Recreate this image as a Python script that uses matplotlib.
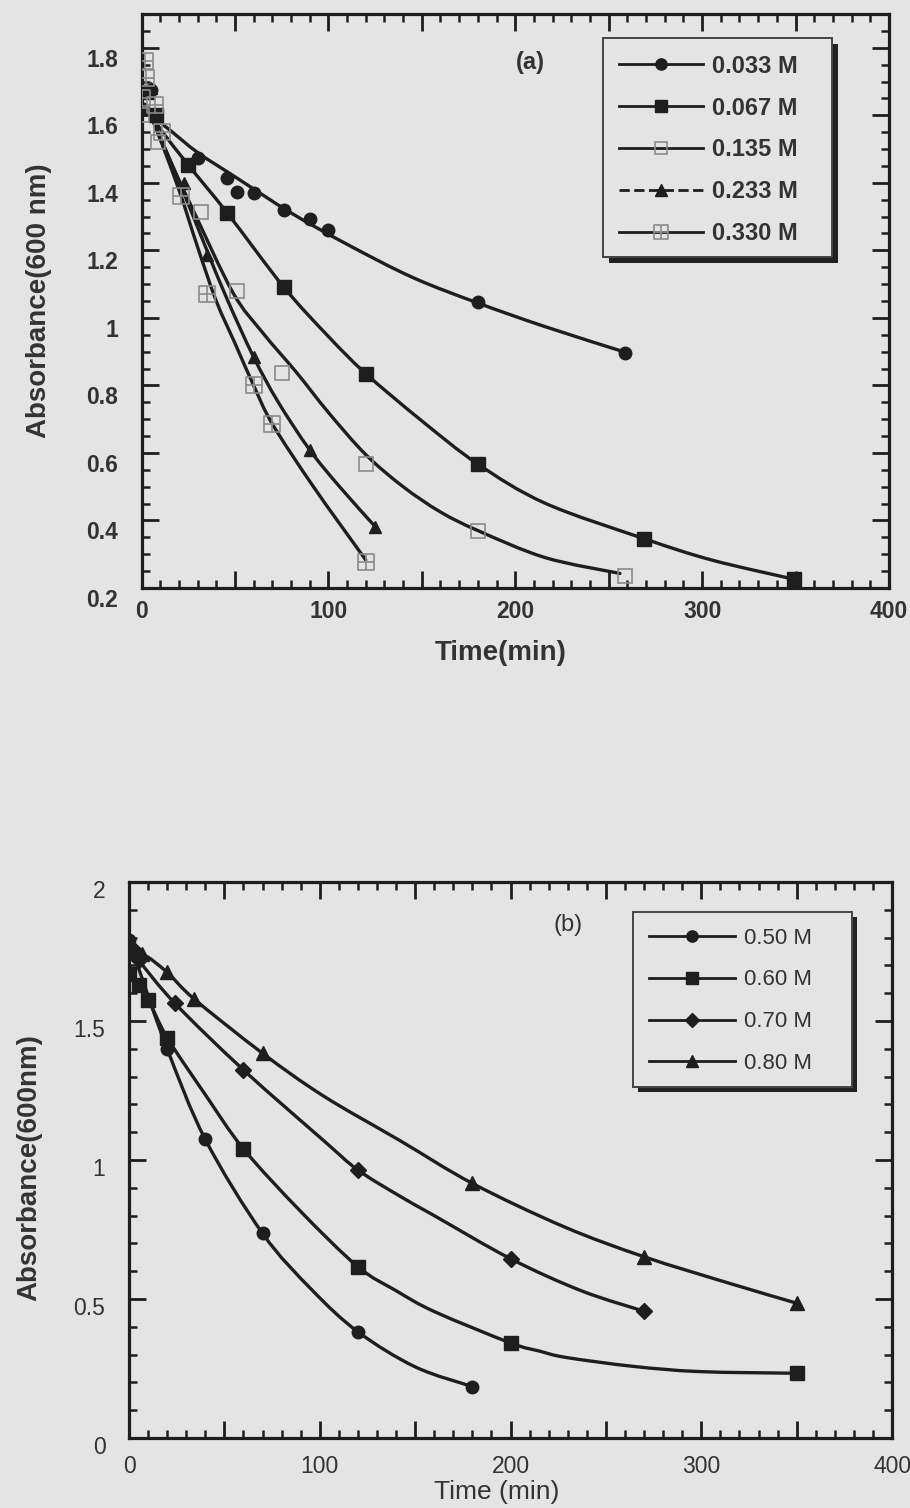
import matplotlib

matplotlib.use("Agg")
import matplotlib.pyplot as plt  # noqa: E402
import numpy as np  # noqa: E402
from matplotlib.lines import Line2D  # noqa: E402
from matplotlib.patches import PathPatch, Rectangle  # noqa: E402
from matplotlib.path import Path  # noqa: E402
from matplotlib.ticker import FuncFormatter, MultipleLocator  # noqa: E402
from matplotlib.transforms import ScaledTranslation  # noqa: E402

plt.rcParams["font.family"] = ["Liberation Sans", "DejaVu Sans"]

BG = "#e4e4e4"
INK = "#1e1e1e"
TXT = "#333333"
GREY = "#8a8a8a"

# ---- panel (a): ionic strength series, measured points ----
t_033 = [1, 5, 30, 46, 51, 60, 76, 90, 100, 180, 259]
a_033 = [1.62, 1.675, 1.474, 1.415, 1.373, 1.37, 1.32, 1.293, 1.261, 1.048, 0.895]
t_067 = [3, 8, 25, 46, 76, 120, 180, 269, 349]
a_067 = [1.67, 1.60, 1.453, 1.31, 1.092, 0.835, 0.567, 0.346, 0.226]
t_135 = [0, 9, 32, 51, 75, 120, 180, 259]
a_135 = [1.60, 1.52, 1.315, 1.08, 0.838, 0.567, 0.369, 0.236]
t_233 = [5, 23, 35, 60, 90, 125]
a_233 = [1.68, 1.40, 1.187, 0.884, 0.609, 0.382]
t_330 = [0, 2, 2.5, 7, 11, 21, 35, 60, 70, 120]
a_330 = [1.65, 1.76, 1.71, 1.63, 1.55, 1.36, 1.07, 0.80, 0.686, 0.277]

# fitted curves for panel (a)
fit_t_033 = [5, 15, 30, 50, 80, 110, 145, 180, 216, 259]
fit_a_033 = [1.60, 1.557, 1.49, 1.418, 1.311, 1.218, 1.12, 1.044, 0.974, 0.898]
fit_t_067 = [5, 12, 25, 46, 76, 100, 120, 150, 180, 216, 269, 305, 349]
fit_a_067 = [1.60, 1.545, 1.453, 1.31, 1.092, 0.945, 0.835, 0.695, 0.567, 0.451, 0.346, 0.283, 0.226]
fit_t_135 = [5, 15, 28, 49, 65, 83, 100, 120, 140, 160, 180, 216, 256]
fit_a_135 = [1.60, 1.47, 1.315, 1.074, 0.955, 0.838, 0.72, 0.595, 0.50, 0.425, 0.37, 0.29, 0.243]
fit_t_233 = [5, 12, 23, 35, 46, 60, 73, 90, 106, 125]
fit_a_233 = [1.60, 1.51, 1.365, 1.20, 1.053, 0.884, 0.752, 0.609, 0.50, 0.382]
fit_t_330 = [5, 12, 21, 30, 40, 50, 60, 70, 92, 120]
fit_a_330 = [1.60, 1.50, 1.364, 1.21, 1.05, 0.925, 0.80, 0.686, 0.50, 0.283]

labels_a = ["0.033 M", "0.067 M", "0.135 M", "0.233 M", "0.330 M"]

# ---- panel (b): higher concentrations ----
t_50 = [0, 20, 40, 70, 120, 180]
a_50 = [1.79, 1.40, 1.074, 0.736, 0.382, 0.185]
t_60 = [0, 5, 10, 20, 60, 120, 200, 350]
a_60 = [1.67, 1.63, 1.576, 1.44, 1.04, 0.616, 0.342, 0.233]
t_70 = [2, 5, 24, 60, 120, 200, 270]
a_70 = [1.76, 1.72, 1.564, 1.324, 0.964, 0.645, 0.456]
t_80 = [0, 7, 20, 34, 70, 180, 270, 350]
a_80 = [1.68, 1.74, 1.675, 1.58, 1.384, 0.916, 0.652, 0.485]

curve_t_50 = [0, 5, 20, 40, 70, 96, 120, 150, 180]
curve_a_50 = [1.79, 1.69, 1.40, 1.074, 0.736, 0.532, 0.382, 0.256, 0.185]
curve_t_60 = [0, 10, 20, 40, 60, 90, 120, 140, 160, 200, 215, 229, 264, 299, 350]
curve_a_60 = [1.67, 1.576, 1.44, 1.235, 1.04, 0.815, 0.616, 0.53, 0.455, 0.342, 0.313, 0.29, 0.258, 0.239, 0.233]
curve_t_70 = [2, 5, 24, 60, 102, 120, 142, 160, 200, 237, 270]
curve_a_70 = [1.76, 1.72, 1.564, 1.324, 1.07, 0.964, 0.87, 0.80, 0.645, 0.53, 0.456]
curve_t_80 = [0, 7, 20, 34, 70, 102, 142, 180, 228, 270, 315, 350]
curve_a_80 = [1.72, 1.74, 1.675, 1.58, 1.384, 1.23, 1.07, 0.916, 0.76, 0.652, 0.556, 0.485]

labels_b = ["0.50 M", "0.60 M", "0.70 M", "0.80 M"]

# square with a cross inside
_verts = [(-1, -1), (1, -1), (1, 1), (-1, 1), (-1, -1), (0, -1), (0, 1), (-1, 0), (1, 0)]
_codes = [Path.MOVETO, Path.LINETO, Path.LINETO, Path.LINETO, Path.CLOSEPOLY,
          Path.MOVETO, Path.LINETO, Path.MOVETO, Path.LINETO]
CROSS_SQ = Path(_verts, _codes)

STYLE_A = [
    dict(marker="o", ms=9, mfc=INK, mec=INK),
    dict(marker="s", ms=10, mfc=INK, mec=INK),
    dict(marker="s", ms=10, mfc="none", mec=GREY, mew=1.2),
    dict(marker="^", ms=9, mfc=INK, mec=INK),
    dict(marker=CROSS_SQ, ms=11, mfc="none", mec=GREY, mew=1.2),
]
STYLE_B = [
    dict(marker="o", ms=9, mfc=INK, mec=INK),
    dict(marker="s", ms=10, mfc=INK, mec=INK),
    dict(marker="D", ms=8, mfc=INK, mec=INK),
    dict(marker="^", ms=10, mfc=INK, mec=INK),
]


def _smooth_path(xs, ys):
    # Catmull-Rom through the points, written as cubic Bezier segments
    pts = np.column_stack([xs, ys]).astype(float)
    ext = np.vstack([pts[0], pts, pts[-1]])
    verts = [pts[0]]
    codes = [Path.MOVETO]
    for i in range(1, len(ext) - 2):
        p0, p1, p2, p3 = ext[i - 1], ext[i], ext[i + 1], ext[i + 2]
        verts += [p1 + (p2 - p0) / 6.0, p2 - (p3 - p1) / 6.0, p2]
        codes += [Path.CURVE4] * 3
    return Path(verts, codes)


def _draw_curve(ax, xs, ys):
    patch = PathPatch(_smooth_path(xs, ys), facecolor="none", edgecolor=INK, lw=2.4,
                      capstyle="round", joinstyle="round", zorder=2)
    ax.add_patch(patch)


def _style_axes(ax, ymajor, yminor, tick_size, weight, ypad, xpad):
    ax.set_facecolor(BG)
    for sp in ax.spines.values():
        sp.set_linewidth(2.3)
        sp.set_color(INK)
    ax.xaxis.set_major_locator(MultipleLocator(50))
    ax.xaxis.set_minor_locator(MultipleLocator(10))
    ax.xaxis.set_major_formatter(FuncFormatter(lambda v, p: f"{v:.0f}" if v % 100 == 0 else ""))
    ax.yaxis.set_major_locator(MultipleLocator(ymajor))
    ax.yaxis.set_minor_locator(MultipleLocator(yminor))
    ax.yaxis.set_major_formatter(FuncFormatter(lambda v, p: f"{v:g}"))
    ax.tick_params(which="both", direction="in", top=True, right=True, color=INK,
                   labelcolor=TXT, labelsize=tick_size)
    ax.tick_params(which="major", length=12, width=2)
    ax.tick_params(which="minor", length=6, width=1.8)
    ax.tick_params(axis="y", pad=ypad)
    ax.tick_params(axis="x", pad=xpad)
    for lab in ax.get_xticklabels() + ax.get_yticklabels():
        lab.set_fontweight(weight)


def _legend_box(ax, handles, labels, box, anchor, size, weight, handlelength, spacing, off):
    # box = (x0, y0, x1, y1) in axes fraction; drawn by hand so the shadow can be offset
    x0, y0, x1, y1 = box
    fig = ax.figure
    shift = ScaledTranslation(off / 72, -off / 72, fig.dpi_scale_trans)
    ax.add_patch(Rectangle((x0, y0), x1 - x0, y1 - y0, transform=ax.transAxes + shift,
                           facecolor="#222222", edgecolor="none", zorder=4.7, clip_on=False))
    ax.add_patch(Rectangle((x0, y0), x1 - x0, y1 - y0, transform=ax.transAxes,
                           facecolor=BG, edgecolor="#444444", lw=1.4, zorder=4.8, clip_on=False))
    leg = ax.legend(handles, labels, loc="upper left", bbox_to_anchor=anchor, borderaxespad=0,
                    frameon=False, handlelength=handlelength, handletextpad=0.38,
                    labelspacing=spacing, borderpad=0.7, prop={"weight": weight, "size": size})
    for txt in leg.get_texts():
        txt.set_color(TXT)
    return leg


fig = plt.figure(figsize=(9.10, 15.08), dpi=100, facecolor=BG)

# panel (a)
ax_a = fig.add_axes([0.1555, 0.6101, 0.8214, 0.3806])
series_a = [
    (t_033, a_033, fit_t_033, fit_a_033),
    (t_067, a_067, fit_t_067, fit_a_067),
    (t_135, a_135, fit_t_135, fit_a_135),
    (t_233, a_233, fit_t_233, fit_a_233),
    (t_330, a_330, fit_t_330, fit_a_330),
]
for (tx, ay, ft, fa), st in zip(series_a, STYLE_A):
    _draw_curve(ax_a, ft, fa)
    ax_a.plot(tx, ay, ls="none", zorder=3, **st)
ax_a.set_xlim(0, 400)
ax_a.set_ylim(0.2, 1.9)
_style_axes(ax_a, 0.2, 0.05, 16.5, "bold", 17, 9)
ax_a.set_xlabel("Time(min)", fontsize=20, fontweight="bold", color=TXT)
ax_a.set_ylabel("Absorbance(600 nm)", fontsize=20, fontweight="bold", color=TXT)
ax_a.xaxis.set_label_coords(0.48, -0.09)
ax_a.yaxis.set_label_coords(-0.12, 0.50)
ax_a.text(0.52, 0.916, "(a)", transform=ax_a.transAxes, fontsize=17, fontweight="bold",
          color=TXT, ha="center", va="center")

handles_a = []
for i, st in enumerate(STYLE_A):
    s = dict(st)
    s["ms"] = s["ms"] * 0.9
    handles_a.append(Line2D([], [], color=INK, lw=2, ls="--" if i == 3 else "-", **s))
_legend_box(ax_a, handles_a, labels_a, (0.6174, 0.5767, 0.9237, 0.9582), (0.617, 0.958),
            17, "bold", 3.56, 0.8, 4.5)

# panel (b)
ax_b = fig.add_axes([0.1418, 0.0464, 0.8385, 0.3687])
series_b = [
    (t_50, a_50, curve_t_50, curve_a_50),
    (t_60, a_60, curve_t_60, curve_a_60),
    (t_70, a_70, curve_t_70, curve_a_70),
    (t_80, a_80, curve_t_80, curve_a_80),
]
for (tx, ay, ct, ca), st in zip(series_b, STYLE_B):
    _draw_curve(ax_b, ct, ca)
    ax_b.plot(tx, ay, ls="none", zorder=3, **st)
ax_b.set_xlim(0, 400)
ax_b.set_ylim(0, 2)
_style_axes(ax_b, 0.5, 0.1, 16.5, "normal", 17, 12)
ax_b.set_xlabel("Time (min)", fontsize=19, color=TXT)
ax_b.set_ylabel("Absorbance(600nm)", fontsize=20, fontweight="bold", color=TXT)
ax_b.xaxis.set_label_coords(0.482, -0.075)
ax_b.yaxis.set_label_coords(-0.114, 0.486)
ax_b.text(0.575, 0.923, "(b)", transform=ax_b.transAxes, fontsize=17,
          color=TXT, ha="center", va="center")

handles_b = []
for st in STYLE_B:
    s = dict(st)
    s["ms"] = s["ms"] * 0.9
    handles_b.append(Line2D([], [], color=INK, lw=2, **s))
_legend_box(ax_b, handles_b, labels_b, (0.6606, 0.6313, 0.9476, 0.946), (0.6606, 0.946),
            16, "normal", 3.9, 0.94, 3.5)

# scanned tick labels sit a little below their ticks
for ax, dy in ((ax_a, 7), (ax_b, 5)):
    off = ScaledTranslation(0, -dy / 72, fig.dpi_scale_trans)
    for lab in ax.get_yticklabels():
        lab.set_transform(lab.get_transform() + off)

fig.savefig("out.png", dpi=100, facecolor=BG)
